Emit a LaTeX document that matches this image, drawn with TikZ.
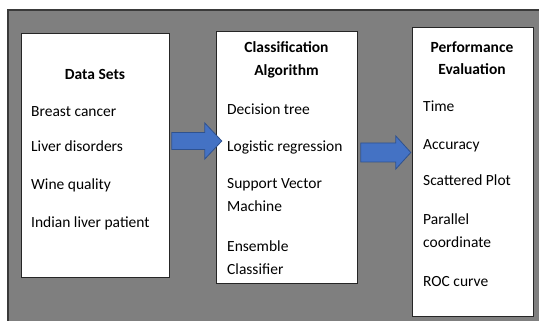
\documentclass[tikz,border=0pt]{standalone}
\usepackage{fontspec}
\setmainfont{Carlito}
\definecolor{bggray}{HTML}{7F7F7F}
\definecolor{frame}{HTML}{3A3A3A}
\definecolor{arrowfill}{HTML}{4472C4}
\definecolor{arrowline}{HTML}{2F528F}
\begin{document}
\begin{tikzpicture}[x=1pt,y=-1pt,
  box/.style={draw=black!85, line width=0.8pt, fill=white, anchor=north west, inner sep=0pt},
  head/.style={anchor=mid, font=\fontsize{15.5}{18}\selectfont\bfseries, inner sep=0pt, yshift=-2.5pt},
  item/.style={anchor=mid west, font=\fontsize{15.5}{18}\selectfont, inner sep=0pt, yshift=-2.5pt},
  blockarrow/.style={draw=arrowline, fill=arrowfill, line width=0.8pt, line join=miter}]
\useasboundingbox (0,0) rectangle (539,321);
\clip (0,0) rectangle (539,321);
% background panel
\draw[fill=bggray, draw=frame, line width=1.3pt] (8,10) rectangle (560,340);
% boxes
\node[box, minimum width=148pt, minimum height=244pt] (b1) at (21,33) {};
\node[box, minimum width=141pt, minimum height=252pt] (b2) at (216,31) {};
\node[box, minimum width=121pt, minimum height=289pt] (b3) at (412,27) {};
% box 1 texts
\node[head] (h1) at (95,75) {Data Sets};
\node[item] (i11) at (31,112) {Breast cancer};
\node[item] (i12) at (31,147) {Liver disorders};
\node[item] (i13) at (31,185) {Wine quality};
\node[item] (i14) at (31,223) {Indian liver patient};
% box 2 texts
\node[head] (h2a) at (286.5,48) {Classification};
\node[head] (h2b) at (286.5,71) {Algorithm};
\node[item] (i21) at (227,110) {Decision tree};
\node[item] (i22) at (227,147) {Logistic regression};
\node[item] (i23) at (227,184) {Support Vector};
\node[item] (i24) at (227,207) {Machine};
\node[item] (i25) at (227,247) {Ensemble};
\node[item] (i26) at (227,270) {Classifier};
% box 3 texts
\node[head] (h3a) at (472,48) {Performance};
\node[head] (h3b) at (472,70) {Evaluation};
\node[item] (i31) at (423,107) {Time};
\node[item] (i32) at (423,145) {Accuracy};
\node[item] (i33) at (423,181) {Scattered Plot};
\node[item] (i34) at (423,220) {Parallel};
\node[item] (i35) at (423,243) {coordinate};
\node[item] (i36) at (423,282) {ROC curve};
% block arrows
\coordinate (a1) at ([xshift=2pt]b1.east |- 0,141);
\draw[blockarrow] (a1) -- ++(0,-8.5) -- ++(33,0) -- ++(0,-9.5) -- ++(17,18) -- ++(-17,18) -- ++(0,-9.5) -- ++(-33,0) -- cycle;
\coordinate (a2) at ([xshift=3pt]b2.east |- 0,152.5);
\draw[blockarrow] (a2) -- ++(0,-9.5) -- ++(35,0) -- ++(0,-7) -- ++(15,16.5) -- ++(-15,16.5) -- ++(0,-7) -- ++(-35,0) -- cycle;
\end{tikzpicture}
\end{document}
